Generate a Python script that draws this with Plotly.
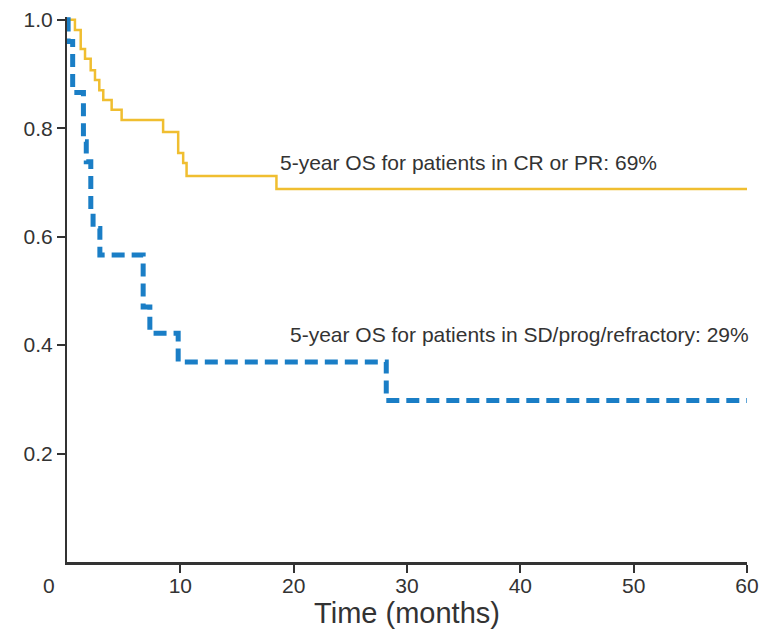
import plotly.graph_objects as go

# Kaplan-Meier style step data (time in months, survival fraction)
cr_pr_time = [0, 0.70, 1.21, 1.59, 2.09, 2.47, 2.85, 3.20, 3.94, 4.82, 8.48, 9.81, 10.25, 10.55, 18.48, 60]
cr_pr_surv = [1.0, 0.981, 0.946, 0.928, 0.907, 0.889, 0.870, 0.852, 0.834, 0.815, 0.793, 0.754, 0.736, 0.712, 0.688, 0.688]

sd_time = [0, 0.1, 0.5, 1.45, 1.7, 2.1, 2.3, 2.9, 6.72, 7.31, 9.81, 28.17, 60]
sd_surv = [1.0, 0.96, 0.866, 0.775, 0.738, 0.65, 0.615, 0.566, 0.470, 0.422, 0.369, 0.298, 0.298]

x_ticks = [10, 20, 30, 40, 50, 60]
y_ticks = [0.2, 0.4, 0.6, 0.8, 1.0]
y_tick_text = ["0.2", "0.4", "0.6", "0.8", "1.0"]

label_cr = "5-year OS for patients in CR or PR: 69%"
label_sd = "5-year OS for patients in SD/prog/refractory: 29%"

TXT = "#333333"
FONT = "Liberation Sans, Arial, sans-serif"

fig = go.Figure()
fig.add_trace(go.Scatter(
    x=cr_pr_time, y=cr_pr_surv, mode="lines", line_shape="hv",
    line=dict(color="#F0BE30", width=2.5), showlegend=False, hoverinfo="skip"))
fig.add_trace(go.Scatter(
    x=sd_time, y=sd_surv, mode="lines", line_shape="hv",
    line=dict(color="#1A7EC6", width=5, dash="13px,7px"), showlegend=False, hoverinfo="skip"))

fig.add_annotation(x=18.59, y=0.736, xref="x", yref="y", text=label_cr, showarrow=False,
                   xanchor="left", yanchor="middle", font=dict(family=FONT, size=21, color=TXT))
fig.add_annotation(x=19.47, y=0.419, xref="x", yref="y", text=label_sd, showarrow=False,
                   xanchor="left", yanchor="middle", font=dict(family=FONT, size=21, color=TXT))
# shared origin label
fig.add_annotation(x=0, y=0, xref="x", yref="paper", text="0", showarrow=False,
                   xanchor="center", yanchor="middle", xshift=-18, yshift=-23,
                   font=dict(family=FONT, size=21, color=TXT))

fig.update_layout(
    width=760, height=640,
    margin=dict(l=67, r=13, t=17, b=78, pad=0, autoexpand=False),
    plot_bgcolor="white", paper_bgcolor="white",
    font=dict(family=FONT, color=TXT),
)
fig.update_xaxes(
    range=[0, 60], tickvals=x_ticks, ticks="outside", ticklen=8, tickwidth=1.5, tickcolor="#333",
    showline=True, linecolor="#333", linewidth=3, showgrid=False, zeroline=False,
    automargin=False, ticklabeloverflow="allow", ticklabelstandoff=-5,
    tickfont=dict(family=FONT, size=21, color=TXT),
    title=dict(text="Time (months)", standoff=4,
               font=dict(family="Liberation Sans Narrow, Arial Narrow, Liberation Sans, sans-serif",
                         size=29, color=TXT)),
)
fig.update_yaxes(
    range=[0, 1.005], tickvals=y_ticks, ticktext=y_tick_text, ticks="outside", ticklen=8,
    tickwidth=1.5, tickcolor="#333",
    showline=True, linecolor="#333", linewidth=2, showgrid=False, zeroline=False,
    automargin=False,
    tickfont=dict(family=FONT, size=21, color=TXT),
)

fig.write_html("out.html")
